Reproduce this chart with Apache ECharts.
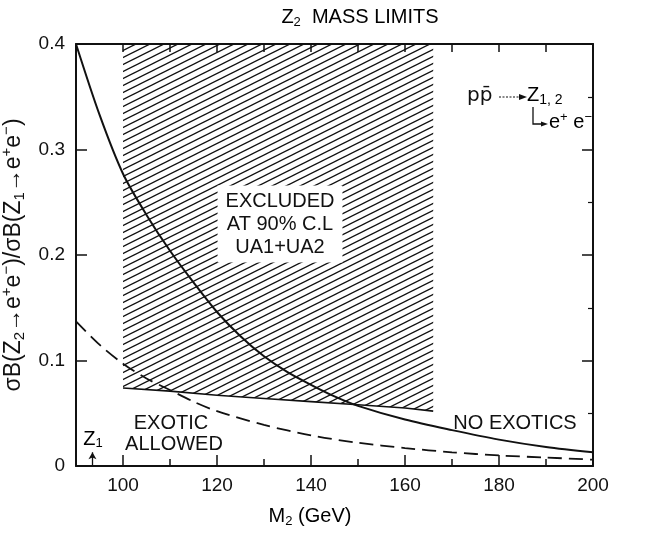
<!DOCTYPE html>
<html>
<head>
<meta charset="utf-8">
<script src="https://cdn.jsdelivr.net/npm/echarts@6/dist/echarts.min.js"></script>
<style>
  html, body { margin: 0; padding: 0; background: #fff; }
  #chart { width: 659px; height: 535px; }
</style>
</head>
<body>
<div id="chart"></div>
<script>
// Z2 / Z1 cross-section ratio limits versus Z2 mass

// Solid curve: prediction with no exotic decays
const noExoticsMass = [90, 95, 100, 105, 110, 115, 120, 125, 130, 135, 140, 145, 150, 160, 170, 180, 190, 200];
const noExoticsRatio = [0.400, 0.333, 0.277, 0.238, 0.204, 0.174, 0.146, 0.123, 0.104, 0.089, 0.077, 0.066, 0.057, 0.044, 0.034, 0.025, 0.018, 0.013];

// Dashed curve: prediction with exotic decays allowed
const exoticMass = [90, 95, 100, 105, 110, 115, 120, 130, 140, 150, 160, 170, 180, 190, 200];
const exoticRatio = [0.137, 0.115, 0.097, 0.083, 0.072, 0.061, 0.052, 0.039, 0.029, 0.022, 0.017, 0.013, 0.010, 0.008, 0.006];

// Lower edge of the UA1+UA2 90% C.L. excluded region
const excludedMass = [100, 110, 120, 130, 140, 150, 160, 166];
const excludedLower = [0.074, 0.071, 0.067, 0.064, 0.061, 0.058, 0.055, 0.052];
const excludedUpper = 0.4;

// Z1 mass marker
const z1Mass = 93.5;
const z1ArrowTop = 0.013;

// Axis ticks
const xLabelTicks = [100, 120, 140, 160, 180, 200];
const xMinorTicks = [110, 130, 150, 170, 190];

const FONT = '"Liberation Sans", "DejaVu Sans", sans-serif';
const INK = '#111';

// Diagonal hatch tile
function makeHatch() {
  const c = document.createElement('canvas');
  c.width = 14; c.height = 7;
  const g = c.getContext('2d');
  g.strokeStyle = INK;
  g.lineWidth = 1.3;
  for (const dy of [-7, 0, 7]) {
    g.beginPath();
    g.moveTo(-2, 8 + dy);
    g.lineTo(16, -1 + dy);
    g.stroke();
  }
  return c;
}
const hatchTile = makeHatch();

const chart = echarts.init(document.getElementById('chart'), null, { renderer: 'canvas' });

const subStyle = { fontFamily: FONT, fontSize: 13, lineHeight: 13, verticalAlign: 'bottom', color: INK };
const supStyle = { fontFamily: FONT, fontSize: 13, lineHeight: 13, verticalAlign: 'top', color: INK };

const option = {
  backgroundColor: '#fff',
  animation: false,
  grid: { left: 76, right: 66, top: 44, bottom: 69, containLabel: false, outerBoundsMode: 'none' },
  xAxis: [
    {
      type: 'value', min: 90, max: 200, position: 'bottom',
      axisLine: { show: true, onZero: false, lineStyle: { color: INK, width: 2 } },
      axisTick: { show: true, inside: true, length: 11, customValues: xLabelTicks, lineStyle: { color: INK, width: 1.5 } },
      axisLabel: { show: true, customValues: xLabelTicks, margin: 10, fontFamily: FONT, fontSize: 19, color: INK },
      splitLine: { show: false }
    },
    {
      type: 'value', min: 90, max: 200, position: 'bottom',
      axisLine: { show: false },
      axisTick: { show: true, inside: true, length: 7, customValues: xMinorTicks, lineStyle: { color: INK, width: 1.5 } },
      axisLabel: { show: false },
      splitLine: { show: false }
    },
    {
      type: 'value', min: 90, max: 200, interval: 10, position: 'top',
      axisLine: { show: true, onZero: false, lineStyle: { color: INK, width: 2 } },
      axisTick: { show: true, inside: true, length: 8, lineStyle: { color: INK, width: 1.5 } },
      axisLabel: { show: false },
      splitLine: { show: false }
    }
  ],
  yAxis: [
    {
      type: 'value', min: 0, max: 0.4, interval: 0.1, position: 'left',
      axisLine: { show: true, onZero: false, lineStyle: { color: INK, width: 2 } },
      axisTick: { show: true, inside: true, length: 11, lineStyle: { color: INK, width: 1.5 } },
      axisLabel: {
        show: true, margin: 11, fontFamily: FONT, fontSize: 19, color: INK,
        formatter: v => (v === 0 ? '0' : v.toFixed(1))
      },
      splitLine: { show: false },
      name: '{t|σB(Z}{sub|2}{t|→e}{sup|+}{t|e}{sup|−}{t|)/σB(Z}{sub|1}{t|→e}{sup|+}{t|e}{sup|−}{t|)}',
      nameLocation: 'middle',
      nameGap: 38,
      nameRotate: 90,
      nameTextStyle: {
        rich: {
          t: { fontFamily: FONT, fontSize: 23, lineHeight: 28, color: INK },
          sub: { fontFamily: FONT, fontSize: 15, lineHeight: 15, verticalAlign: 'bottom', color: INK },
          sup: { fontFamily: FONT, fontSize: 15, lineHeight: 15, verticalAlign: 'top', color: INK }
        }
      }
    },
    {
      type: 'value', min: 0, max: 0.4, interval: 0.1, position: 'right',
      axisLine: { show: true, onZero: false, lineStyle: { color: INK, width: 2 } },
      axisTick: { show: true, inside: true, length: 11, lineStyle: { color: INK, width: 1.5 } },
      minorTick: { show: true, splitNumber: 2, length: 5, lineStyle: { color: INK, width: 1.2 } },
      axisLabel: { show: false },
      splitLine: { show: false }
    }
  ],
  series: [
    {
      name: 'excluded',
      type: 'custom',
      xAxisIndex: 0, yAxisIndex: 0,
      data: [0],
      z: 1,
      renderItem: (params, api) => {
        const lower = excludedMass.map((m, i) => api.coord([m, excludedLower[i]]));
        const first = excludedMass[0];
        const last = excludedMass[excludedMass.length - 1];
        const pts = [api.coord([first, excludedUpper]), api.coord([last, excludedUpper])]
          .concat(lower.slice().reverse());
        return {
          type: 'group',
          children: [
            { type: 'polygon', shape: { points: pts }, style: { fill: { image: hatchTile, repeat: 'repeat' }, stroke: null } },
            { type: 'polyline', shape: { points: lower }, style: { stroke: INK, lineWidth: 1.6, fill: null } }
          ]
        };
      }
    },
    {
      name: 'NO EXOTICS',
      type: 'line',
      xAxisIndex: 0, yAxisIndex: 0,
      data: noExoticsMass.map((m, i) => [m, noExoticsRatio[i]]),
      smooth: 0.3,
      showSymbol: false,
      lineStyle: { color: INK, width: 2 },
      z: 3
    },
    {
      name: 'EXOTIC ALLOWED',
      type: 'line',
      xAxisIndex: 0, yAxisIndex: 0,
      data: exoticMass.map((m, i) => [m, exoticRatio[i]]),
      smooth: 0.3,
      showSymbol: false,
      lineStyle: { color: INK, width: 1.8, type: [14, 7] },
      z: 3,
      markLine: {
        silent: true,
        symbol: ['none', 'arrow'],
        symbolSize: [6, 7],
        label: { show: false },
        lineStyle: { color: INK, width: 1.3, type: 'solid' },
        data: [[{ coord: [z1Mass, 0] }, { coord: [z1Mass, z1ArrowTop] }]]
      }
    }
  ],
  graphic: [
    {
      type: 'text', x: 360, y: 17,
      style: {
        text: '{t|Z}{sub|2}{t|  MASS LIMITS}', align: 'center', verticalAlign: 'middle',
        rich: {
          t: { fontFamily: FONT, fontSize: 20, lineHeight: 24, color: INK },
          sub: subStyle
        }
      }
    },
    {
      type: 'text', x: 310, y: 516,
      style: {
        text: '{t|M}{sub|2}{t| (GeV)}', align: 'center', verticalAlign: 'middle',
        rich: {
          t: { fontFamily: FONT, fontSize: 20, lineHeight: 24, color: INK },
          sub: subStyle
        }
      }
    },
    {
      type: 'text', x: 280, y: 224, z: 10,
      style: {
        text: 'EXCLUDED\nAT 90% C.L\nUA1+UA2', align: 'center', verticalAlign: 'middle',
        fontFamily: FONT, fontSize: 20, lineHeight: 23, fill: INK,
        backgroundColor: '#fff', padding: [4, 8, 4, 8]
      }
    },
    {
      type: 'text', x: 171, y: 423,
      style: { text: 'EXOTIC', align: 'center', verticalAlign: 'middle', fontFamily: FONT, fontSize: 20, fill: INK }
    },
    {
      type: 'text', x: 174, y: 444,
      style: { text: 'ALLOWED', align: 'center', verticalAlign: 'middle', fontFamily: FONT, fontSize: 20, fill: INK }
    },
    {
      type: 'text', x: 515, y: 423,
      style: { text: 'NO EXOTICS', align: 'center', verticalAlign: 'middle', fontFamily: FONT, fontSize: 20, fill: INK }
    },
    {
      type: 'text', x: 93, y: 439,
      style: {
        text: '{t|Z}{sub|1}', align: 'center', verticalAlign: 'middle',
        rich: { t: { fontFamily: FONT, fontSize: 20, lineHeight: 22, color: INK }, sub: subStyle }
      }
    },
    // Reaction diagram, upper right
    {
      type: 'text', x: 467, y: 96,
      style: { text: 'pp\u0304', align: 'left', verticalAlign: 'middle', fontFamily: '"DejaVu Sans", sans-serif', fontSize: 20, fill: INK }
    },
    {
      type: 'line', shape: { x1: 499, y1: 97, x2: 521, y2: 97 },
      style: { stroke: INK, lineWidth: 1.2, lineDash: [2, 1.5] }
    },
    {
      type: 'polygon', shape: { points: [[527, 97], [519, 94], [519, 100]] },
      style: { fill: INK }
    },
    {
      type: 'text', x: 527, y: 95,
      style: {
        text: '{t|Z}{sub|1, 2}', align: 'left', verticalAlign: 'middle',
        rich: { t: { fontFamily: FONT, fontSize: 20, lineHeight: 24, color: INK }, sub: { fontFamily: FONT, fontSize: 14, lineHeight: 14, verticalAlign: 'bottom', color: INK } }
      }
    },
    {
      type: 'polyline', shape: { points: [[533, 107], [533, 124], [542, 124]] },
      style: { stroke: INK, lineWidth: 1.3, fill: null }
    },
    {
      type: 'polygon', shape: { points: [[548, 124], [541, 121.5], [541, 126.5]] },
      style: { fill: INK }
    },
    {
      type: 'text', x: 549, y: 122,
      style: {
        text: '{t|e}{sup|+}{t| e}{sup|−}', align: 'left', verticalAlign: 'middle',
        rich: { t: { fontFamily: FONT, fontSize: 20, lineHeight: 22, color: INK }, sup: supStyle }
      }
    }
  ]
};

chart.setOption(option);
</script>
</body>
</html>
